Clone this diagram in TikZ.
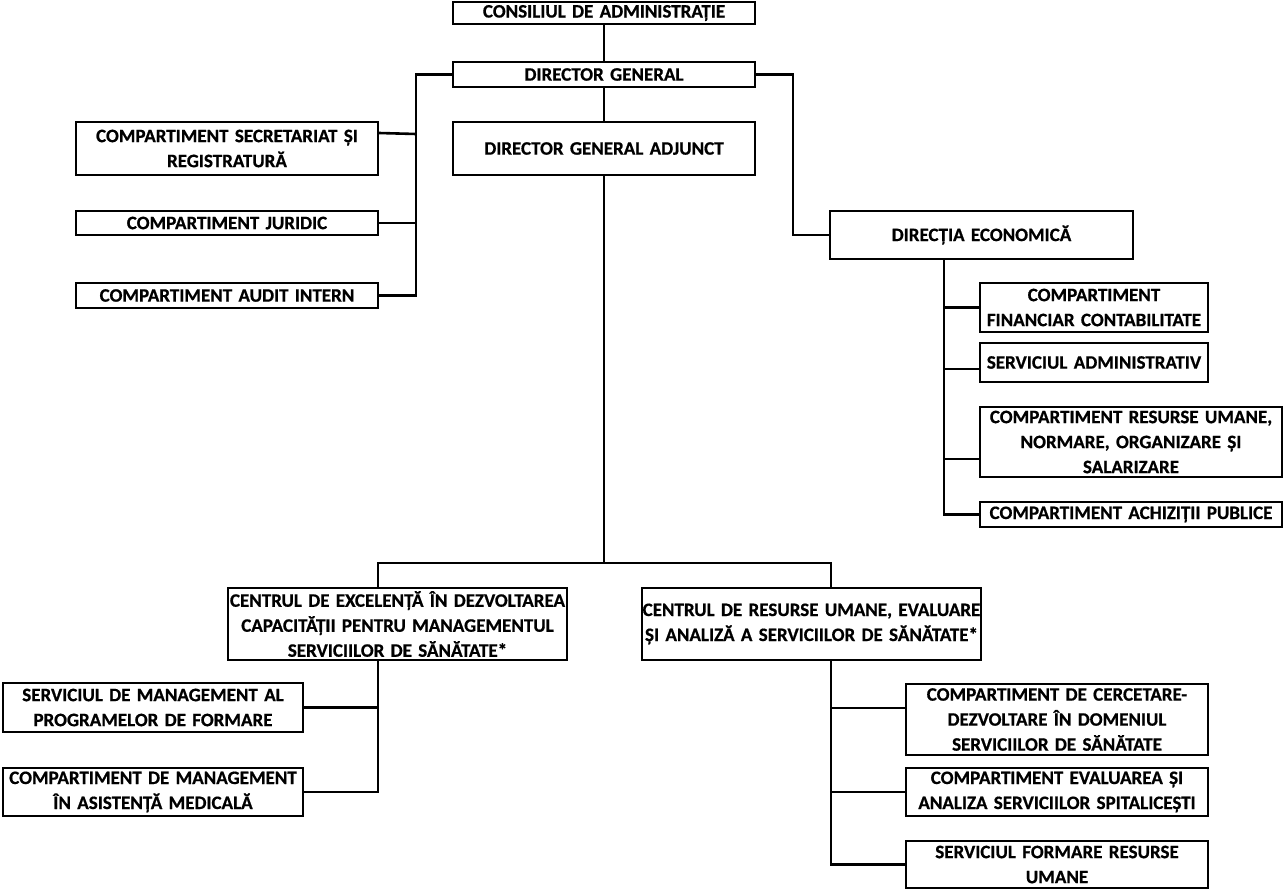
\documentclass[tikz,border=0pt]{standalone}
\usepackage{fontspec}
\setmainfont{Carlito}[WordSpace=0.8,BoldFeatures={FakeBold=0.7}]
\begin{document}
\begin{tikzpicture}[x=1pt,y=-1pt,
  bx/.style={draw, line width=2pt, inner sep=0pt, align=center,
    font=\fontsize{19}{25}\selectfont\bfseries},
  cn/.style={line width=2.6pt, line join=miter}]
\useasboundingbox[fill=white] (0,0) rectangle (1284,890);
% top column
\node[bx, text width=302pt, minimum height=22pt] (cons) at (604,13) {CONSILIUL DE ADMINISTRAȚIE};
\node[bx, text width=302pt, minimum height=25pt] (dg) at (604,74.5) {DIRECTOR GENERAL};
\node[bx, text width=302pt, minimum height=53pt] (dga) at (604,148.5) {DIRECTOR GENERAL ADJUNCT};
% left column
\node[bx, text width=302pt, minimum height=53pt] (sec) at (227,148.5) {COMPARTIMENT SECRETARIAT ȘI\\REGISTRATURĂ};
\node[bx, text width=302pt, minimum height=24pt] (jur) at (227,223) {COMPARTIMENT JURIDIC};
\node[bx, text width=302pt, minimum height=25pt] (aud) at (227,295.5) {COMPARTIMENT AUDIT INTERN};
% economic
\node[bx, text width=303pt, minimum height=48pt] (dir) at (981.5,235) {DIRECȚIA ECONOMICĂ};
\node[bx, text width=228pt, minimum height=49pt] (fin) at (1094,307.5) {COMPARTIMENT\\FINANCIAR CONTABILITATE};
\node[bx, text width=228pt, minimum height=39pt] (adm) at (1094,362.5) {\raisebox{-6.5pt}{SERVICIUL ADMINISTRATIV}};
\node[bx, text width=302pt, minimum height=70pt] (rum) at (1131,442) {COMPARTIMENT RESURSE UMANE,\\NORMARE, ORGANIZARE ȘI\\SALARIZARE};
\node[bx, text width=302pt, minimum height=25pt] (ach) at (1131,514.5) {COMPARTIMENT ACHIZIȚII PUBLICE};
% centres
\node[bx, text width=339pt, minimum height=72pt] (cex) at (397.5,624) {CENTRUL DE EXCELENȚĂ ÎN DEZVOLTAREA\\CAPACITĂȚII PENTRU MANAGEMENTUL\\SERVICIILOR DE SĂNĂTATE*};
\node[bx, text width=339pt, minimum height=72pt] (cru) at (811.5,624) {CENTRUL DE RESURSE UMANE, EVALUARE\\ȘI ANALIZĂ A SERVICIILOR DE SĂNĂTATE*};
\node[bx, text width=300pt, minimum height=49pt] (smp) at (153,707.5) {SERVICIUL DE MANAGEMENT AL\\PROGRAMELOR DE FORMARE};
\node[bx, text width=300pt, minimum height=48pt] (cma) at (153,792) {COMPARTIMENT DE MANAGEMENT\\ÎN ASISTENȚĂ MEDICALĂ};
\node[bx, text width=302pt, minimum height=71pt] (cer) at (1057,719.5) {COMPARTIMENT DE CERCETARE-\\DEZVOLTARE ÎN DOMENIUL\\SERVICIILOR DE SĂNĂTATE};
\node[bx, text width=302pt, minimum height=48pt] (eva) at (1057,792) {COMPARTIMENT EVALUAREA ȘI\\ANALIZA SERVICIILOR SPITALICEȘTI};
\node[bx, text width=302pt, minimum height=47pt] (frm) at (1057,864.5) {SERVICIUL FORMARE RESURSE\\UMANE};
% bus coordinates
\coordinate (lb) at (416,74.5);
\coordinate (rb) at (793,74.5);
\coordinate (eb) at (944,259);
\coordinate (tj) at (604,563);
\coordinate (hl) at (378,563);
\coordinate (hr) at (831,563);
% connectors
\draw[cn] (cons.south) -- (dg.north);
\draw[cn] (dg.south) -- (dga.north);
\draw[cn] (dg.west) -- (lb) |- (aud.east);
\draw[cn] (lb |- 0,134) -- ([yshift=-12pt]sec.north east);
\draw[cn] (lb |- jur.east) -- (jur.east);
\draw[cn] (dg.east) -- (rb) |- (dir.west);
\draw[cn] (eb) |- (ach.west);
\draw[cn] (eb |- fin.west) -- (fin.west);
\draw[cn] (eb |- 0,369) -- ([yshift=-6.5pt]adm.west);
\draw[cn] (eb |- 0,459) -- ([yshift=-17pt]rum.west);
\draw[cn] (dga.south) -- (tj);
\draw[cn] (hl |- cex.north) -- (hl) -- (hr) -- (hr |- cru.north);
\draw[cn] (hl |- cex.south) |- (cma.east);
\draw[cn] (hl |- smp.east) -- (smp.east);
\draw[cn] (hr |- cru.south) |- (frm.west);
\draw[cn] (hr |- 0,708) -- ([yshift=11.5pt]cer.west);
\draw[cn] (hr |- eva.west) -- (eva.west);
\end{tikzpicture}
\end{document}
